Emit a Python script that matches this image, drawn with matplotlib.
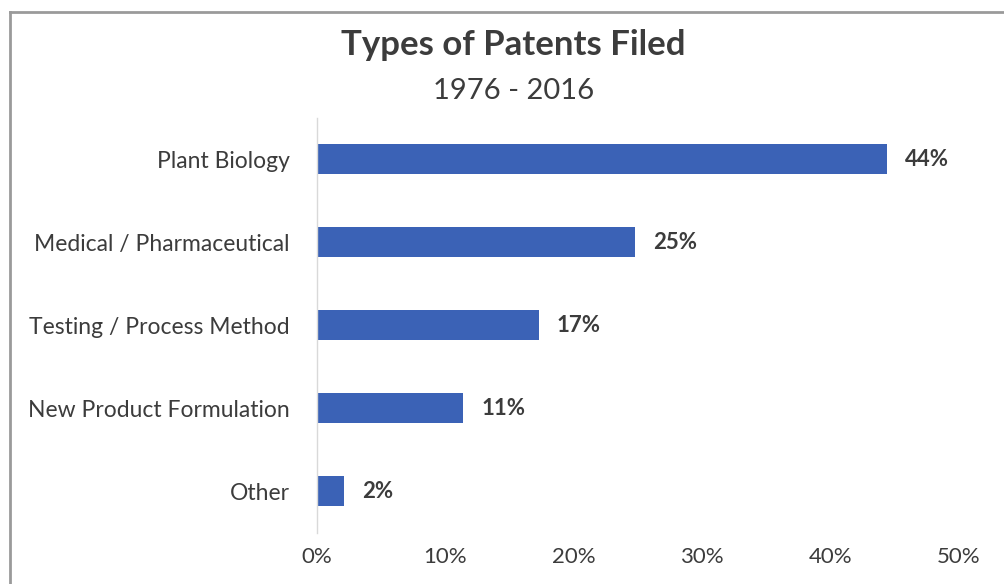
import matplotlib.pyplot as plt
from matplotlib.lines import Line2D
from matplotlib.ticker import FuncFormatter

plt.rcParams['font.family'] = ['Lato', 'DejaVu Sans']

# dane
kategorie = ['Plant Biology', 'Medical / Pharmaceutical', 'Testing / Process Method',
             'New Product Formulation', 'Other']
udzialy = [44.4, 24.8, 17.3, 11.4, 2.1]
etykiety_x = [0, 10, 20, 30, 40, 50]

tekst_kolor = '#3c3c3c'
slupek_kolor = '#3b62b6'

fig = plt.figure(figsize=(10.045, 5.845), dpi=100)
fig.patch.set_facecolor('white')

# ramka wokol wykresu (widoczna tylko gora i lewa strona)
x0 = 10 / 1004
y0 = 1 - 12 / 584
fig.lines.append(Line2D([x0, 1.0], [y0, y0], transform=fig.transFigure,
                        color='#9a9a9a', linewidth=2))
fig.lines.append(Line2D([x0, x0], [0.0, y0], transform=fig.transFigure,
                        color='#9a9a9a', linewidth=2))

ax = fig.add_axes([317 / 1004, 1 - 533 / 584, (958 - 317) / 1004, 415 / 584])

pozycje = list(range(len(kategorie)))
ax.barh(pozycje, udzialy, height=0.36, color=slupek_kolor)
ax.set_ylim(len(kategorie) - 0.5, -0.5)
ax.set_xlim(0, 50)

ax.set_yticks(pozycje)
ax.set_yticklabels(kategorie, fontsize=16.5, color=tekst_kolor)
ax.set_xticks(etykiety_x)
ax.xaxis.set_major_formatter(FuncFormatter(lambda v, p: f'{v:.0f}%'))
for lab in ax.get_xticklabels():
    lab.set_fontsize(16)
    lab.set_color(tekst_kolor)

ax.tick_params(axis='both', length=0)
ax.tick_params(axis='y', pad=20)
ax.tick_params(axis='x', pad=10)

for s in ['top', 'right', 'bottom']:
    ax.spines[s].set_visible(False)
ax.spines['left'].set_color('#d9d9d9')
ax.spines['left'].set_linewidth(1)

for y, v in zip(pozycje, udzialy):
    ax.text(v + 1.4, y, f'{v:.0f}%', va='center', ha='left',
            fontsize=16, color=tekst_kolor, fontweight='bold')

fig.text(513 / 1004, 1 - 45 / 584, 'Types of Patents Filed', ha='center', va='center',
         fontsize=25, fontweight='bold', color=tekst_kolor)
fig.text(513 / 1004, 1 - 91 / 584, '1976 - 2016', ha='center', va='center',
         fontsize=21, color=tekst_kolor)

plt.savefig('out.png', dpi=100)
